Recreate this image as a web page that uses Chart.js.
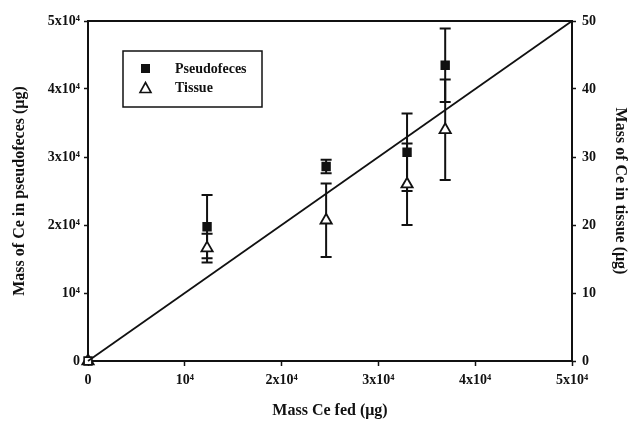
<!DOCTYPE html>
<html>
<head>
<meta charset="utf-8">
<script src="https://cdn.jsdelivr.net/npm/chart.js@4.4.0/dist/chart.umd.min.js"></script>
<style>
html,body{margin:0;padding:0;background:#fff;}
#wrap{width:634px;height:423px;position:relative;}
</style>
</head>
<body>
<div id="wrap"><canvas id="c" width="634" height="423"></canvas></div>
<script>
// Data
const massFed      = [0, 12300, 24600, 32960, 36900];
const pseudofeces  = [0, 19750, 28600, 30700, 43500];
const pseudoErr    = [0, 4650, 1000, 5700, 5400];
const tissue       = [0, 16.6, 20.7, 26.0, 34.0];
const tissueErr    = [0, 2.1, 5.4, 6.0, 7.4];
const lineX        = [0, 50000];
const lineY        = [0, 50000];
const xTickLabels  = ['0', '10\u2074', '2x10\u2074', '3x10\u2074', '4x10\u2074', '5x10\u2074'];
const yTickLabels  = ['0', '10\u2074', '2x10\u2074', '3x10\u2074', '4x10\u2074', '5x10\u2074'];
const y2TickLabels = ['0', '10', '20', '30', '40', '50'];

const FONT = '"Liberation Serif", "Times New Roman", serif';

const errorBars = {
  id: 'errorBars',
  beforeDatasetsDraw(chart) {
    const ctx = chart.ctx;
    const xs = chart.scales.x;
    const sets = [
      {scale: chart.scales.y, vals: pseudofeces, errs: pseudoErr},
      {scale: chart.scales.y2, vals: tissue, errs: tissueErr}
    ];
    ctx.save();
    ctx.strokeStyle = '#111';
    ctx.lineWidth = 2;
    sets.forEach(s => {
      s.vals.forEach((v, i) => {
        const e = s.errs[i];
        if (!e) return;
        const px = xs.getPixelForValue(massFed[i]);
        const pt = s.scale.getPixelForValue(v + e);
        const pb = s.scale.getPixelForValue(v - e);
        ctx.beginPath();
        ctx.moveTo(px, pt); ctx.lineTo(px, pb);
        ctx.moveTo(px - 5.5, pt); ctx.lineTo(px + 5.5, pt);
        ctx.moveTo(px - 5.5, pb); ctx.lineTo(px + 5.5, pb);
        ctx.stroke();
      });
    });
    ctx.restore();
  },
  afterDraw(chart) {
    const ctx = chart.ctx;
    const a = chart.chartArea;
    ctx.save();
    // top frame line
    ctx.strokeStyle = '#111';
    ctx.lineWidth = 2;
    ctx.beginPath();
    ctx.moveTo(a.left, a.top); ctx.lineTo(a.right, a.top);
    ctx.stroke();
    // legend box
    const lx = a.left + 35, ly = a.top + 30, lw = 139, lh = 56;
    ctx.lineWidth = 1.5;
    ctx.strokeRect(lx, ly, lw, lh);
    // square
    ctx.fillStyle = '#111';
    ctx.fillRect(lx + 18, ly + 13, 9, 9);
    // triangle
    ctx.beginPath();
    const tx = lx + 22.5, ty = ly + 37;
    ctx.moveTo(tx, ty - 5.5); ctx.lineTo(tx + 5.5, ty + 4.5); ctx.lineTo(tx - 5.5, ty + 4.5); ctx.closePath();
    ctx.fillStyle = '#fff'; ctx.fill();
    ctx.lineWidth = 1.6; ctx.stroke();
    ctx.fillStyle = '#111';
    ctx.font = 'bold 14px ' + FONT;
    ctx.textBaseline = 'middle';
    ctx.textAlign = 'left';
    ctx.fillText('Pseudofeces', lx + 52, ly + 18);
    ctx.fillText('Tissue', lx + 52, ly + 37);
    ctx.restore();
  }
};

const tickFont = {family: FONT, size: 14, weight: 'bold'};
const titleFont = {family: FONT, size: 16, weight: 'bold'};

new Chart(document.getElementById('c'), {
  type: 'scatter',
  data: {
    datasets: [
      {
        type: 'line',
        label: 'line',
        data: lineX.map((x, i) => ({x: x, y: lineY[i]})),
        borderColor: '#111',
        borderWidth: 1.8,
        pointRadius: 0,
        yAxisID: 'y',
        clip: false
      },
      {
        label: 'Pseudofeces',
        data: massFed.map((x, i) => ({x: x, y: pseudofeces[i]})),
        pointStyle: 'rect',
        pointRadius: 5.5,
        backgroundColor: ['#fff', '#111', '#111', '#111', '#111'],
        borderColor: '#111',
        borderWidth: 1.6,
        yAxisID: 'y',
        clip: false
      },
      {
        label: 'Tissue',
        data: massFed.map((x, i) => ({x: x, y: tissue[i]})),
        pointStyle: 'triangle',
        pointRadius: 6.5,
        backgroundColor: '#fff',
        borderColor: '#111',
        borderWidth: 1.8,
        yAxisID: 'y2',
        clip: false
      }
    ]
  },
  options: {
    responsive: false,
    animation: false,
    layout: {padding: {top: 21, left: 6, right: 0, bottom: 0}},
    plugins: {legend: {display: false}, tooltip: {enabled: false}},
    scales: {
      x: {
        type: 'linear', min: 0, max: 50000,
        afterFit(s) { s.height = 62; },
        ticks: {stepSize: 10000, color: '#111', font: tickFont, padding: 6,
                maxRotation: 0, autoSkip: false,
                callback: (v, i) => xTickLabels[i]},
        grid: {drawOnChartArea: false, color: '#111', tickLength: 5, tickWidth: 1.5},
        border: {display: true, color: '#111', width: 2},
        title: {display: true, text: 'Mass Ce fed (\u03bcg)', color: '#111', font: titleFont, padding: {top: 4, bottom: 3}}
      },
      y: {
        type: 'linear', position: 'left', min: 0, max: 50000,
        afterFit(s) { s.width = 82; },
        ticks: {stepSize: 10000, color: '#111', font: tickFont, padding: 4,
                callback: (v, i) => yTickLabels[i]},
        grid: {drawOnChartArea: false, color: '#111', tickLength: 4, tickWidth: 1.5},
        border: {display: true, color: '#111', width: 2},
        title: {display: true, text: 'Mass of Ce in pseudofeces (\u03bcg)', color: '#111', font: titleFont, padding: {top: 4, bottom: 4}}
      },
      y2: {
        type: 'linear', position: 'right', min: 0, max: 50,
        afterFit(s) { s.width = 62; },
        ticks: {stepSize: 10, color: '#111', font: tickFont, padding: 6,
                callback: (v, i) => y2TickLabels[i]},
        grid: {drawOnChartArea: false, color: '#111', tickLength: 4, tickWidth: 1.5},
        border: {display: true, color: '#111', width: 2},
        title: {display: true, text: 'Mass of Ce in tissue (\u03bcg)', color: '#111', font: titleFont, padding: {top: 4, bottom: 0}}
      }
    }
  },
  plugins: [errorBars]
});
</script>
</body>
</html>
